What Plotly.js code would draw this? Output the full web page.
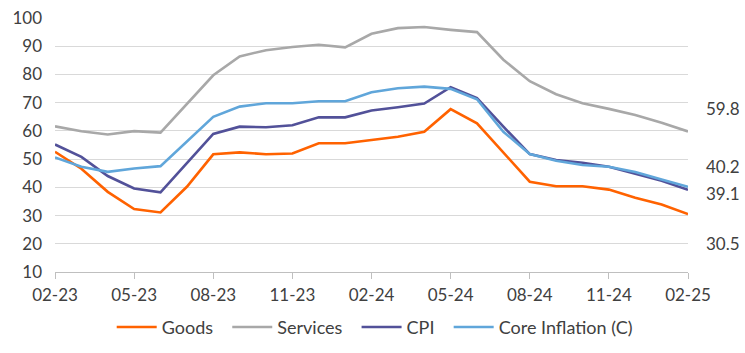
<!DOCTYPE html>
<html>
<head>
<meta charset="utf-8">
<script src="https://cdn.plot.ly/plotly-3.0.1.min.js"></script>
<style>html,body{margin:0;padding:0;background:#fff;}#chart{width:745px;height:353px;}</style>
</head>
<body>
<div id="chart"></div>
<script>
const months = ['02-23','03-23','04-23','05-23','06-23','07-23','08-23','09-23','10-23','11-23','12-23','01-24',
  '02-24','03-24','04-24','05-24','06-24','07-24','08-24','09-24','10-24','11-24','12-24','01-25','02-25'];
const tickLabels = ['02-23','05-23','08-23','11-23','02-24','05-24','08-24','11-24','02-25'];
const goods = [52.6,46.6,38.4,32.3,31.1,40.2,51.7,52.4,51.7,52.0,55.6,55.6,56.8,57.9,59.7,67.7,62.7,52.3,42.0,40.4,40.4,39.2,36.3,33.9,30.5];
const services = [61.6,59.9,58.7,59.9,59.4,69.6,79.7,86.4,88.6,89.7,90.5,89.6,94.4,96.4,96.8,95.8,95.0,85.2,77.6,73.0,69.8,67.8,65.6,62.9,59.8];
const cpi = [55.2,50.8,44.0,39.6,38.2,48.5,58.9,61.5,61.3,62.0,64.8,64.8,67.2,68.4,69.7,75.5,71.6,61.5,51.8,49.7,48.7,47.3,44.9,42.3,39.1];
const core = [50.6,47.3,45.5,46.7,47.5,56.2,65.0,68.6,69.8,69.8,70.5,70.5,73.7,75.1,75.7,74.9,71.2,59.7,51.8,49.4,47.9,47.3,45.4,42.8,40.2];
const seriesNames = ['Goods','Services','CPI','Core Inflation (C)'];
const rightLabels = ['59.8','40.2','39.1','30.5'];
const rightLabelPos = [67.9, 47.3, 37.9, 20.0];

const font = 'Lato, "Noto Sans", sans-serif';
const pad = '\u00a0\u00a0';
const mk = (name, y, color) => ({type:'scatter', mode:'lines', name: name + pad, x:months, y,
  line:{color, width:2.6}});
const traces = [
  mk(seriesNames[0], goods, '#FF6200'),
  mk(seriesNames[1], services, '#A8A8A8'),
  mk(seriesNames[2], cpi, '#525199'),
  mk(seriesNames[3], core, '#60A6DA')
];
const annotations = rightLabels.map((t,i)=>({text:t, xref:'paper', yref:'y', x:1, xshift:16, y:rightLabelPos[i],
  xanchor:'left', yanchor:'middle', showarrow:false, font:{family:font, size:17, color:'#404040'}}));
const layout = {
  width:745, height:353,
  margin:{l:55, r:57, t:18, b:81, autoexpand:false},
  paper_bgcolor:'#fff', plot_bgcolor:'#fff',
  showlegend:true,
  legend:{orientation:'h', x:0.509, xref:'container', xanchor:'center', y:0.073, yref:'container', yanchor:'middle',
    font:{family:font, size:18, color:'#404040'}, itemwidth:40, tracegroupgap:0},
  xaxis:{type:'category', range:[0,24], tickmode:'array', tickvals:tickLabels, ticktext:tickLabels,
    showgrid:false, showline:true, linecolor:'#BFBFBF', linewidth:1, ticks:'outside', ticklen:6, tickcolor:'#BFBFBF',
    tickfont:{family:font, size:17, color:'#404040'}, ticklabelstandoff:2, zeroline:false, fixedrange:true},
  yaxis:{range:[10,100], tickvals:[10,20,30,40,50,60,70,80,90,100], showgrid:true, gridcolor:'#D9D9D9', gridwidth:1,
    showline:false, zeroline:false, ticks:'', tickfont:{family:font, size:17, color:'#404040'}, ticklabelstandoff:12, fixedrange:true},
  annotations
};
Plotly.newPlot('chart', traces, layout, {displayModeBar:false, staticPlot:true});
</script>
</body>
</html>
